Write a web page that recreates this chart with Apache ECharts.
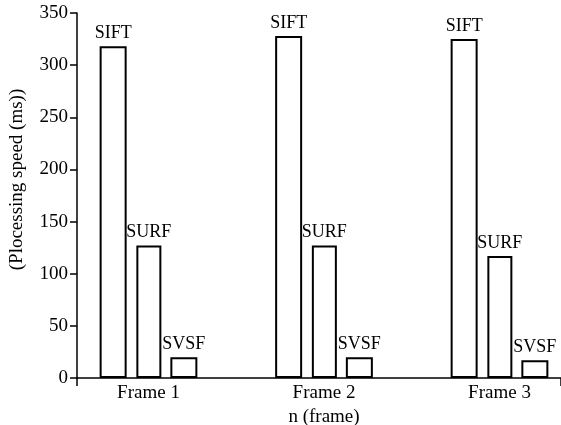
<!DOCTYPE html>
<html>
<head>
<meta charset="utf-8">
<script src="https://cdn.jsdelivr.net/npm/echarts@6/dist/echarts.min.js"></script>
<style>
  html, body { margin: 0; padding: 0; background: #fff; }
  #chart { width: 561px; height: 425px; }
</style>
</head>
<body>
<div id="chart"></div>
<script>
// Processing time per frame for three feature detectors
const frames = ['Frame 1', 'Frame 2', 'Frame 3'];
const siftValues = [318, 328, 325];
const surfValues = [127, 127, 117];
const svsfValues = [20, 20, 17];
const yTicks = { min: 0, max: 350, step: 50 };

const serif = 'Liberation Serif';
const ink = '#000';

const chart = echarts.init(document.getElementById('chart'));

function barSeries(name, values, width) {
  return {
    name: name,
    type: 'bar',
    xAxisIndex: 0,
    yAxisIndex: 0,
    data: values,
    barWidth: width,
    barGap: '36%',
    itemStyle: { color: '#fff', borderColor: ink, borderWidth: 2 },
    label: {
      show: true,
      position: 'top',
      distance: 4,
      formatter: '{a}',
      fontFamily: serif,
      fontSize: 18,
      color: ink
    },
    silent: true
  };
}

chart.setOption({
  animation: false,
  backgroundColor: '#fff',
  grid: [
    // band layout for the grouped bars
    { left: 60.75, width: 526.5, top: 13, height: 365, outerBoundsMode: 'none', containLabel: false },
    // visible frame: y axis and baseline
    { left: 77, width: 484, top: 13, height: 365, outerBoundsMode: 'none', containLabel: false }
  ],
  xAxis: [
    {
      gridIndex: 0,
      type: 'category',
      data: frames,
      axisLine: { show: false },
      axisTick: { show: false },
      axisLabel: { fontFamily: serif, fontSize: 19, color: ink, margin: 6 },
      name: 'n (frame)',
      nameLocation: 'middle',
      nameGap: 28,
      nameTextStyle: { fontFamily: serif, fontSize: 19, color: ink }
    },
    {
      gridIndex: 1,
      type: 'value',
      min: 0,
      max: 1,
      interval: 1,
      axisLine: { show: true, lineStyle: { color: ink, width: 1.5 } },
      axisTick: { show: true, length: 8, lineStyle: { color: ink, width: 1.5 } },
      axisLabel: { show: false },
      splitLine: { show: false }
    }
  ],
  yAxis: [
    {
      gridIndex: 0,
      type: 'value',
      min: yTicks.min,
      max: yTicks.max,
      interval: yTicks.step,
      show: false
    },
    {
      gridIndex: 1,
      type: 'value',
      min: yTicks.min,
      max: yTicks.max,
      interval: yTicks.step,
      axisLine: { show: true, lineStyle: { color: ink, width: 1.5 } },
      axisTick: { show: true, length: 7, lineStyle: { color: ink, width: 1.5 } },
      axisLabel: { fontFamily: serif, fontSize: 19, color: ink, margin: 9 },
      splitLine: { show: false },
      name: '(Plocessing speed (ms))',
      nameLocation: 'middle',
      nameGap: 50,
      nameTextStyle: { fontFamily: serif, fontSize: 19, color: ink, padding: [0, 0, 0, 32] }
    }
  ],
  series: [
    barSeries('SIFT', siftValues, 27),
    barSeries('SURF', surfValues, 25),
    barSeries('SVSF', svsfValues, 27)
  ]
});
</script>
</body>
</html>
